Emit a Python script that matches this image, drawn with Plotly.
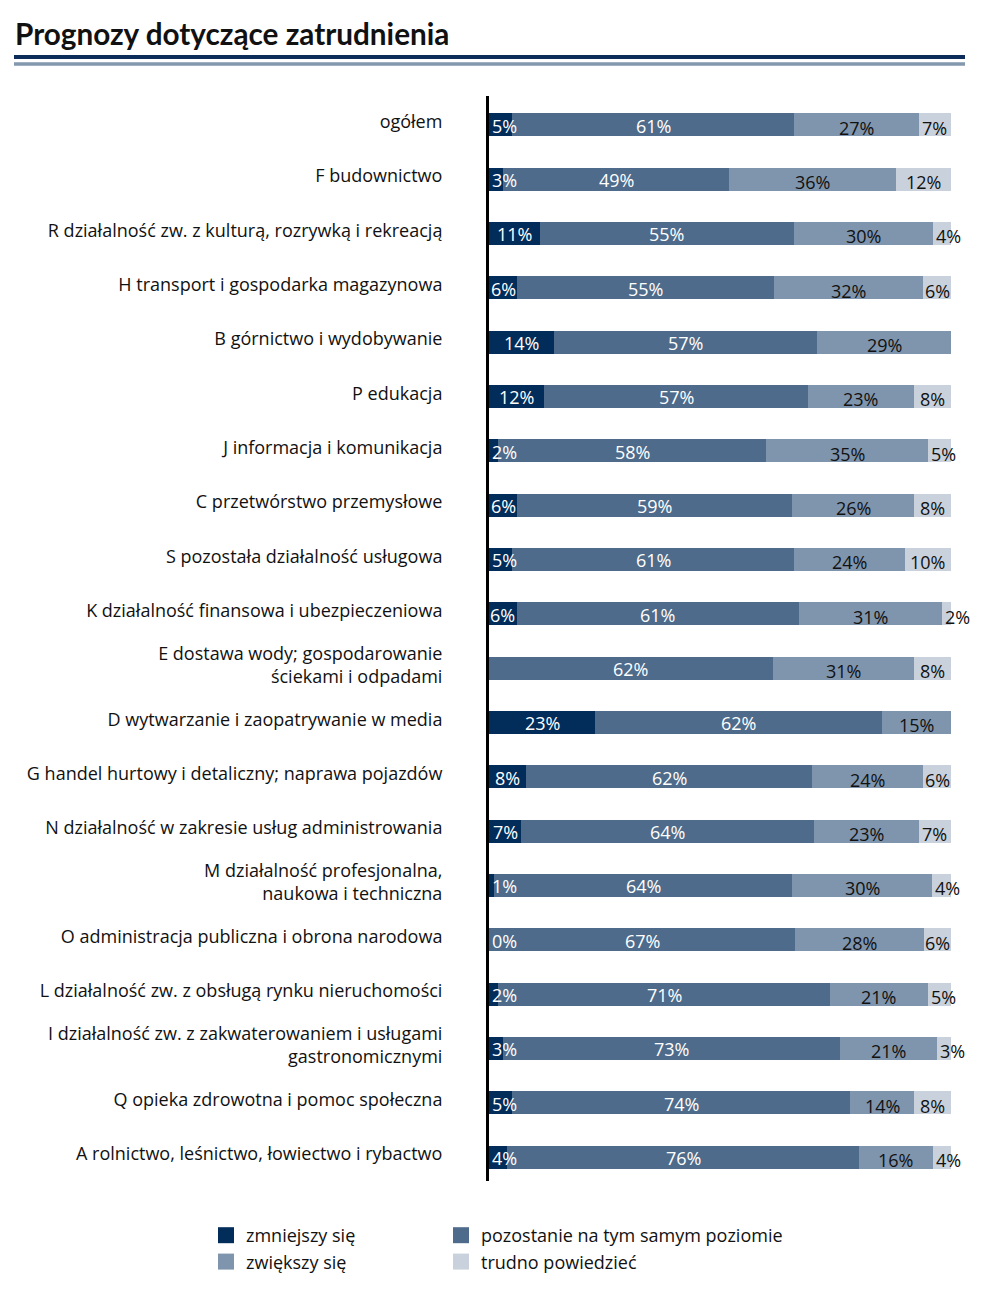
import plotly.graph_objects as go

categories = [
    "ogółem",
    "F budownictwo",
    "R działalność zw. z kulturą, rozrywką i rekreacją",
    "H transport i gospodarka magazynowa",
    "B górnictwo i wydobywanie",
    "P edukacja",
    "J informacja i komunikacja",
    "C przetwórstwo przemysłowe",
    "S pozostała działalność usługowa",
    "K działalność finansowa i ubezpieczeniowa",
    "E dostawa wody; gospodarowanie<br>ściekami i odpadami",
    "D wytwarzanie i zaopatrywanie w media",
    "G handel hurtowy i detaliczny; naprawa pojazdów",
    "N działalność w zakresie usług administrowania",
    "M działalność profesjonalna,<br>naukowa i techniczna",
    "O administracja publiczna i obrona narodowa",
    "L działalność zw. z obsługą rynku nieruchomości",
    "I działalność zw. z zakwaterowaniem i usługami<br>gastronomicznymi",
    "Q opieka zdrowotna i pomoc społeczna",
    "A rolnictwo, leśnictwo, łowiectwo i rybactwo",
]

zmniejszy = [5, 3, 11, 6, 14, 12, 2, 6, 5, 6, None, 23, 8, 7, 1, 0, 2, 3, 5, 4]
pozostanie = [61, 49, 55, 55, 57, 57, 58, 59, 61, 61, 62, 62, 62, 64, 64, 67, 71, 73, 74, 76]
zwiekszy = [27, 36, 30, 32, 29, 23, 35, 26, 24, 31, 31, 15, 24, 23, 30, 28, 21, 21, 14, 16]
trudno = [7, 12, 4, 6, None, 8, 5, 8, 10, 2, 8, None, 6, 7, 4, 6, 5, 3, 8, 4]

series_names = ["zmniejszy się", "pozostanie na tym samym poziomie", "zwiększy się", "trudno powiedzieć"]
series_values = [zmniejszy, pozostanie, zwiekszy, trudno]
series_colors = ["#022c5a", "#4e6b8b", "#7f95ad", "#c9d2dc"]
label_colors = ["white", "white", "#111111", "#111111"]
legend_ids = ["legend", "legend2", "legend", "legend2"]

FONT = "Open Sans"
TITLE_FONT = "Lato"
FS = 18

# page body has an 8px margin: work in reference pixels, shift by 8
OFF = 8
W, H = 1003 - OFF, 1296 - OFF
PL, PR, PT, PB = 489, 951, 96, 1181  # plot area in reference pixels
L, T = PL - OFF, PT - OFF
R, B = W - (PR - OFF), H - (PB - OFF)
PW, PH = PR - PL, PB - PT


def px_x(p):
    return (p - PL) / PW


def px_y(p):
    return (PB - p) / PH


fig = go.Figure()

for name, vals, col in zip(series_names, series_values, series_colors):
    fig.add_trace(go.Bar(
        y=categories,
        x=[v if v is not None else 0 for v in vals],
        orientation="h",
        name=name,
        marker=dict(color=col, line=dict(width=0)),
        showlegend=False,
        hoverinfo="skip",
    ))

# legend entries (square markers)
for name, col, lg in zip(series_names, series_colors, legend_ids):
    fig.add_trace(go.Scatter(
        x=[None], y=[None], mode="markers", name=name,
        marker=dict(symbol="square", size=16, color=col),
        legend=lg, showlegend=True,
    ))

# value labels
annotations = []
for i, cat in enumerate(categories):
    row = [s[i] for s in series_values]
    total = sum(v for v in row if v is not None)
    cum = 0.0
    for k, v in enumerate(row):
        if v is None:
            continue
        w = v / total * 100.0
        start = cum
        cum += w
        if w < 5.5:
            xpos, anchor, xs = start, "left", 1
        else:
            xpos, anchor, xs = start + w / 2.0, "center", 0
        annotations.append(dict(
            x=xpos, y=cat, xref="x", yref="y",
            text=f"{v}%", showarrow=False,
            xanchor=anchor, yanchor="middle", xshift=xs,
            yshift=-1 if k < 2 else -3,
            font=dict(family=FONT, size=FS, color=label_colors[k]),
        ))

# title
annotations.append(dict(
    x=px_x(13), y=px_y(34), xref="paper", yref="paper",
    text="<b>Prognozy dotyczące zatrudnienia</b>", showarrow=False,
    xanchor="left", yanchor="middle",
    font=dict(family=TITLE_FONT, size=29.7, color="#111111"),
))

shapes = [
    dict(type="line", xref="paper", yref="paper", x0=px_x(14), x1=px_x(965),
         y0=px_y(57), y1=px_y(57), line=dict(color="#0c2d5a", width=4)),
    dict(type="line", xref="paper", yref="paper", x0=px_x(14), x1=px_x(965),
         y0=px_y(64), y1=px_y(64), line=dict(color="#8397ad", width=3.5)),
]

fig.update_layout(
    width=W, height=H,
    margin=dict(l=L, r=R, t=T, b=B),
    barmode="stack", barnorm="percent",
    bargap=0.58,
    plot_bgcolor="white", paper_bgcolor="white",
    font=dict(family=FONT, size=FS, color="#111111"),
    xaxis=dict(range=[0, 100], visible=False, fixedrange=True),
    yaxis=dict(
        type="category", range=[19.44, -0.53],
        showline=True, linecolor="black", linewidth=3,
        showgrid=False, zeroline=False, ticks="",
        ticklabelstandoff=40, ticklabelshift=3,
        tickfont=dict(family=FONT, size=FS, color="#111111"),
    ),
    annotations=annotations,
    shapes=shapes,
    legend=dict(
        x=px_x(206), y=px_y(1217), xanchor="left", yanchor="top",
        orientation="v", traceorder="normal",
        font=dict(family=FONT, size=FS, color="#111111"),
        bgcolor="rgba(0,0,0,0)", tracegroupgap=0,
    ),
    legend2=dict(
        x=px_x(441), y=px_y(1217), xanchor="left", yanchor="top",
        orientation="v", traceorder="normal",
        font=dict(family=FONT, size=FS, color="#111111"),
        bgcolor="rgba(0,0,0,0)", tracegroupgap=0,
    ),
)

fig.write_html("out.html")
